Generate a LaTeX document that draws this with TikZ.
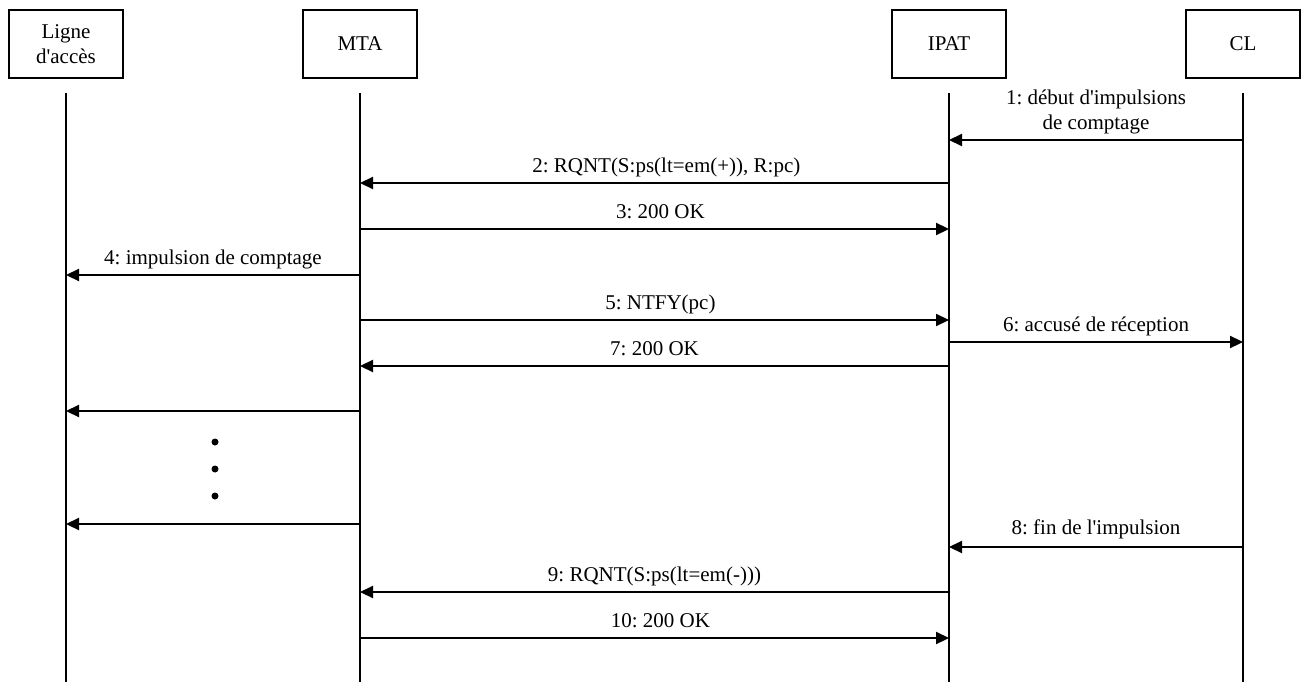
\documentclass[tikz,border=0pt]{standalone}
\usepackage{fontspec}
\setmainfont{Liberation Serif}
\usetikzlibrary{arrows.meta,positioning}
\frenchspacing

\begin{document}
\begin{tikzpicture}[x=1pt, y=-1pt,
  actor/.style={draw, line width=2pt, minimum width=114pt, minimum height=68pt, align=center, inner sep=0pt},
  life/.style={line width=2.5pt},
  msg/.style={-{Triangle[length=13pt,width=12pt]}, line width=2.2pt},
  lbl/.style={anchor=base, yshift=11pt, inner sep=0pt},
  lbltwo/.style={anchor=south, yshift=5pt, align=center, inner sep=0pt},
  font=\fontsize{21}{24.5}\selectfont
]
\useasboundingbox (0,0) rectangle (1303,682);

\node[actor] (la) at (66,44) {Ligne\\d\textquotesingle accès};
\node[actor] (mta) at (360,44) {MTA};
\node[actor] (ipat) at (949,44) {IPAT};
\node[actor] (cl) at (1243,44) {CL};

% lifelines
\coordinate (la-top) at (66,93);   \coordinate (la-bot) at (66,682);
\coordinate (mta-top) at (360,93); \coordinate (mta-bot) at (360,682);
\coordinate (ipat-top) at (949,93); \coordinate (ipat-bot) at (949,682);
\coordinate (cl-top) at (1243,93); \coordinate (cl-bot) at (1243,682);
\draw[life] (la-top) -- (la-bot);
\draw[life] (mta-top) -- (mta-bot);
\draw[life] (ipat-top) -- (ipat-bot);
\draw[life] (cl-top) -- (cl-bot);

% message end points
\coordinate (cl-1) at (1243,140);  \coordinate (ipat-1) at (949,140);
\coordinate (ipat-2) at (949,183); \coordinate (mta-2) at (360,183);
\coordinate (mta-3) at (360,229);  \coordinate (ipat-3) at (949,229);
\coordinate (mta-4) at (360,275);  \coordinate (la-4) at (66,275);
\coordinate (mta-5) at (360,320);  \coordinate (ipat-5) at (949,320);
\coordinate (ipat-6) at (949,342); \coordinate (cl-6) at (1243,342);
\coordinate (ipat-7) at (949,366); \coordinate (mta-7) at (360,366);
\coordinate (mta-a) at (360,411);  \coordinate (la-a) at (66,411);
\coordinate (mta-b) at (360,524);  \coordinate (la-b) at (66,524);
\coordinate (cl-8) at (1243,547);  \coordinate (ipat-8) at (949,547);
\coordinate (ipat-9) at (949,592); \coordinate (mta-9) at (360,592);
\coordinate (mta-10) at (360,638); \coordinate (ipat-10) at (949,638);

\draw[msg] (cl-1) -- (ipat-1) node[lbltwo, midway] {1: début d\textquotesingle impulsions\\de comptage};
\draw[msg] (ipat-2) -- (mta-2) node[lbl, pos=0.48] {2: RQNT(S:ps(lt=em(+)), R:pc)};
\draw[msg] (mta-3) -- (ipat-3) node[lbl, pos=0.51] {3: 200 OK};
\draw[msg] (mta-4) -- (la-4) node[lbl, midway] {4: impulsion de comptage};
\draw[msg] (mta-5) -- (ipat-5) node[lbl, pos=0.51] {5: NTFY(pc)};
\draw[msg] (ipat-6) -- (cl-6) node[lbl, midway] {6: accusé de réception};
\draw[msg] (ipat-7) -- (mta-7) node[lbl, midway] {7: 200 OK};
\draw[msg] (mta-a) -- (la-a);
\draw[msg] (mta-b) -- (la-b);
\draw[msg] (cl-8) -- (ipat-8) node[lbl, midway, yshift=2pt] {8: fin de l\textquotesingle impulsion};
\draw[msg] (ipat-9) -- (mta-9) node[lbl, midway] {9: RQNT(S:ps(lt=em(-)))};
\draw[msg] (mta-10) -- (ipat-10) node[lbl, pos=0.51] {10: 200 OK};

% dots
\fill (215,442) circle (3.5pt);
\fill (215,469) circle (3.5pt);
\fill (215,496) circle (3.5pt);
\end{tikzpicture}
\end{document}
